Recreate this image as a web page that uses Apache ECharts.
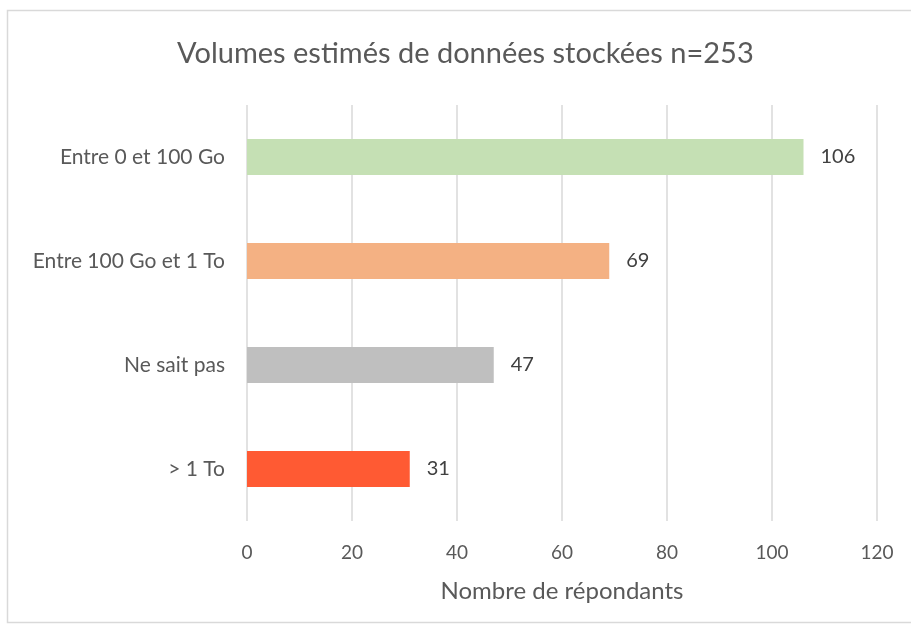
<!DOCTYPE html>
<html>
<head>
<meta charset="utf-8">
<script src="https://cdn.jsdelivr.net/npm/echarts@6/dist/echarts.min.js"></script>
<style>
  html, body { margin: 0; padding: 0; background: #fff; }
  #main { width: 911px; height: 628px; }
</style>
</head>
<body>
<div id="main"></div>
<script>
var categories = ['Entre 0 et 100 Go', 'Entre 100 Go et 1 To', 'Ne sait pas', '> 1 To'];
var values = [106, 69, 47, 31];
var barColors = ['#C5E0B4', '#F4B183', '#BFBFBF', '#FF5A33'];
var xTicks = [0, 20, 40, 60, 80, 100, 120];

var txt = '#595959';
var font = 'Lato';

var chart = echarts.init(document.getElementById('main'));
var option = {
  backgroundColor: '#fff',
  animation: false,
  title: {
    text: 'Volumes estimés de données stockées n=253',
    left: 172,
    top: 34,
    textStyle: { color: txt, fontSize: 29, fontWeight: 'normal', fontFamily: font }
  },
  graphic: [{
    type: 'rect',
    shape: { x: 7.5, y: 10.5, width: 920, height: 612 },
    style: { fill: null, stroke: '#d9d9d9', lineWidth: 1.5 },
    silent: true
  }],
  grid: { left: 247, right: 34, top: 105, bottom: 107 },
  xAxis: {
    type: 'value',
    min: xTicks[0],
    max: xTicks[xTicks.length - 1],
    interval: 20,
    name: 'Nombre de répondants',
    nameLocation: 'middle',
    nameGap: 58,
    nameTextStyle: { color: txt, fontSize: 24, fontFamily: font },
    axisLine: { show: false },
    axisTick: { show: false },
    axisLabel: { color: txt, fontSize: 19, fontFamily: font, margin: 22 },
    splitLine: { show: true, lineStyle: { color: '#d9d9d9', width: 1.5 } }
  },
  yAxis: {
    type: 'category',
    data: categories,
    inverse: true,
    axisLine: { show: false },
    axisTick: { show: false },
    axisLabel: { color: txt, fontSize: 21, fontFamily: font, margin: 22 }
  },
  series: [{
    type: 'bar',
    barWidth: 36,
    data: values.map(function (v, i) {
      return { value: v, itemStyle: { color: barColors[i] } };
    }),
    label: {
      show: true,
      position: 'right',
      distance: 17,
      color: '#404040',
      fontSize: 20,
      fontFamily: font
    }
  }]
};
chart.setOption(option);
</script>
</body>
</html>
